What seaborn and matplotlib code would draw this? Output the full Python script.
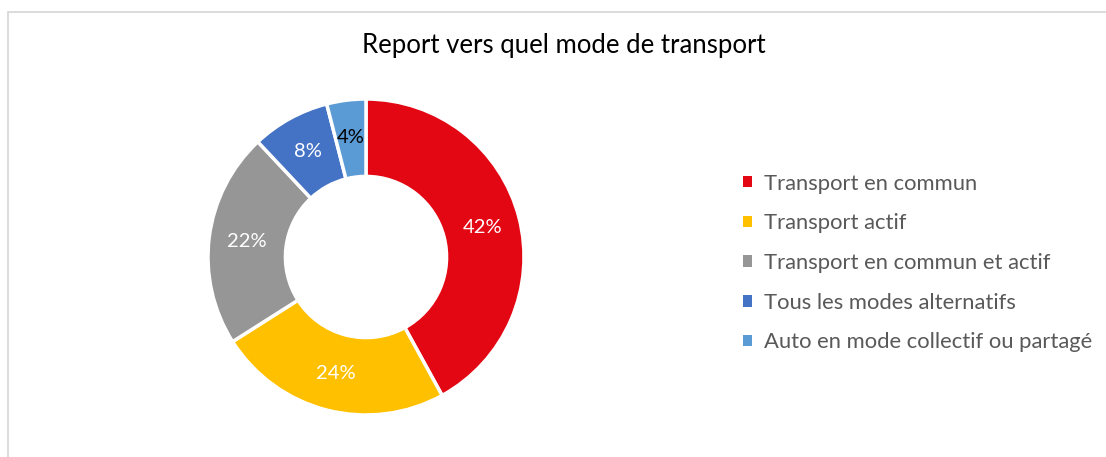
import matplotlib
matplotlib.use("Agg")
import matplotlib.pyplot as plt
from matplotlib.lines import Line2D
from matplotlib.patches import Patch
import seaborn as sns

categories = ["Transport en commun", "Transport actif", "Transport en commun et actif",
              "Tous les modes alternatifs", "Auto en mode collectif ou partagé"]
values = [42, 24, 22, 8, 4]
colors = ["#E30613", "#FFC000", "#969696", "#4472C4", "#5B9BD5"]
label_colors = ["white", "white", "white", "white", "black"]
title = "Report vers quel mode de transport"

sns.set_theme(style="white")
plt.rcParams["font.family"] = ["Lato", "DejaVu Sans"]

W, H = 1106, 457
fig = plt.figure(figsize=(W / 100, H / 100), dpi=100)
fig.patch.set_facecolor("white")

cx, cy, r = 366, 257, 158
ax = fig.add_axes([(cx - r) / W, (H - cy - r) / H, 2 * r / W, 2 * r / H])
wedges, texts, autotexts = ax.pie(
    values, colors=colors, startangle=90, counterclock=False,
    autopct="%d%%", pctdistance=0.76, radius=1,
    wedgeprops=dict(width=0.49, edgecolor="white", linewidth=2.5),
    textprops=dict(fontsize=14.5),
)
for t, c in zip(autotexts, label_colors):
    t.set_color(c)
ax.set_aspect("equal")
ax.set_xlim(-1, 1)
ax.set_ylim(-1, 1)
ax.axis("off")

fig.text(564 / W, 1 - 45 / H, title, ha="center", va="center", fontsize=18.5, color="#000000")

handles = [Patch(facecolor=c, edgecolor="none") for c in colors]
leg = fig.legend(handles, categories, loc="center left", bbox_to_anchor=(743 / W, 1 - 263 / H),
                 frameon=False, fontsize=15.8, handlelength=0.42, handleheight=0.42,
                 handletextpad=0.55, labelspacing=0.9, borderpad=0, borderaxespad=0)
for t in leg.get_texts():
    t.set_color("#595959")

border = "#D9D9D9"
fig.add_artist(Line2D([7.5 / W, 1.0], [1 - 11.5 / H, 1 - 11.5 / H], transform=fig.transFigure,
                      color=border, lw=1.3))
fig.add_artist(Line2D([7.5 / W, 7.5 / W], [0, 1 - 11.5 / H], transform=fig.transFigure,
                      color=border, lw=1.3))

fig.savefig("out.png", dpi=100, facecolor="white")
